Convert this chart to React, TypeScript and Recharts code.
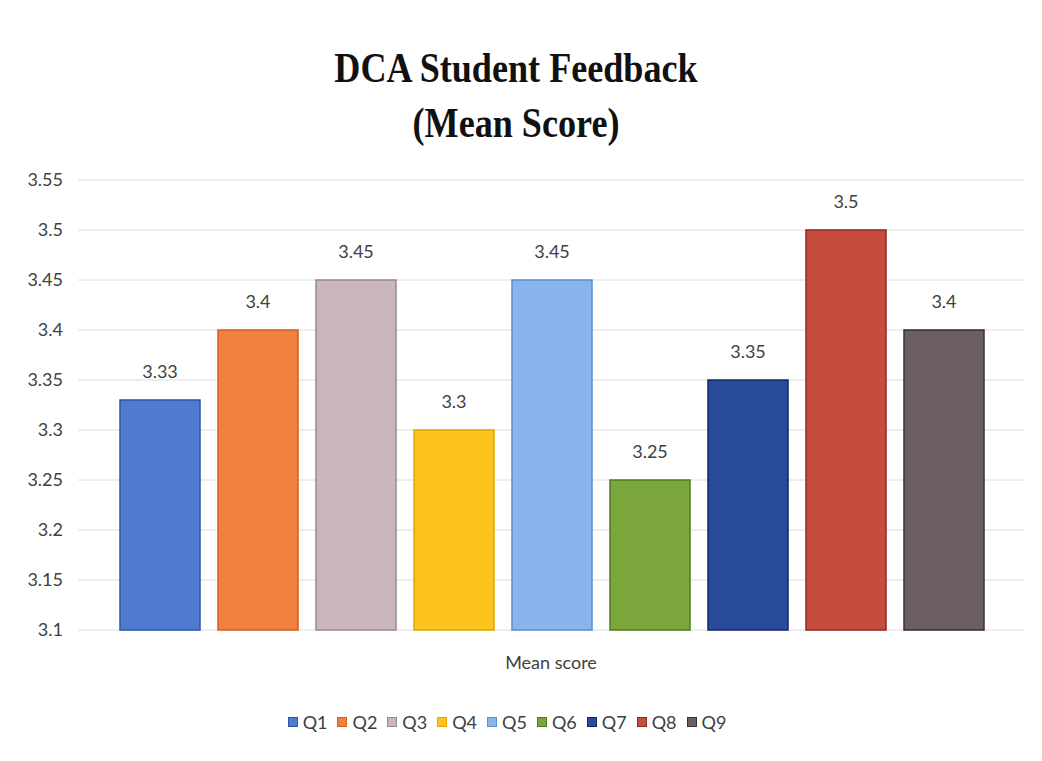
import { BarChart, Bar, XAxis, YAxis, CartesianGrid, Legend, LabelList } from 'recharts';

// Question labels and their mean scores
const questions = ['Q1', 'Q2', 'Q3', 'Q4', 'Q5', 'Q6', 'Q7', 'Q8', 'Q9'];
const meanScores = [3.33, 3.4, 3.45, 3.3, 3.45, 3.25, 3.35, 3.5, 3.4];
const categoryName = 'Mean score';
const yTicks = [3.1, 3.15, 3.2, 3.25, 3.3, 3.35, 3.4, 3.45, 3.5, 3.55];

const fills = ['#4f7bd0', '#f08040', '#cbb5bf', '#fcc21e', '#8ab4ec', '#7aa63c', '#284a9a', '#c64c3c', '#6b5e63'];
const strokes = ['#2d55a8', '#d0601e', '#9a8990', '#e0a800', '#5a8fd0', '#4f7a22', '#14286a', '#8e2a1e', '#3a3034'];

const row: Record<string, string | number> = { name: categoryName };
questions.forEach((q, i) => {
  row[q] = meanScores[i];
});
const data = [row];

const FONT = 'Lato, "Open Sans", sans-serif';
const TEXT = '#404040';

function LegendContent() {
  return (
    <div style={{ display: 'flex', justifyContent: 'center', height: 24, alignItems: 'center', fontFamily: FONT }}>
      {questions.map((q, i) => (
        <div key={q} style={{ display: 'flex', alignItems: 'center', marginRight: 10 }}>
          <span
            style={{
              width: 10,
              height: 10,
              background: fills[i],
              border: `1px solid ${strokes[i]}`,
              boxSizing: 'border-box',
              marginRight: 5,
            }}
          />
          <span style={{ fontSize: 18, color: TEXT }}>{q}</span>
        </div>
      ))}
    </div>
  );
}

export default function App() {
  return (
    <div style={{ position: 'absolute', left: 0, top: 0, width: 1042, height: 761, background: '#fff' }}>
      <div
        style={{
          position: 'absolute',
          left: 0,
          top: 41,
          width: 1032,
          textAlign: 'center',
          fontFamily: '"Liberation Serif", "Times New Roman", serif',
          fontWeight: 'bold',
          fontSize: 42,
          lineHeight: '55px',
          color: '#111',
        }}
      >
        <div style={{ transform: 'scaleX(0.86)' }}>DCA Student Feedback</div>
        <div style={{ transform: 'scaleX(0.86)' }}>(Mean Score)</div>
      </div>
      <BarChart
        width={1042}
        height={761}
        data={data}
        margin={{ top: 180, right: 18, left: 0, bottom: 27 }}
        barGap={18}
        barCategoryGap={42}
      >
        <CartesianGrid vertical={false} stroke="#dcdcdc" />
        <XAxis
          dataKey="name"
          axisLine={false}
          tickLine={false}
          tickSize={0}
          tickMargin={26}
          height={80}
          tick={{ fontSize: 18, fill: TEXT, fontFamily: FONT }}
        />
        <YAxis
          domain={[3.1, 3.55]}
          ticks={yTicks}
          width={78}
          axisLine={false}
          tickLine={false}
          tickSize={0}
          tickMargin={15}
          tick={{ fontSize: 18, fill: TEXT, fontFamily: FONT }}
        />
        <Legend verticalAlign="bottom" height={24} content={<LegendContent />} />
        {questions.map((q, i) => (
          <Bar key={q} dataKey={q} fill={fills[i]} stroke={strokes[i]} strokeWidth={1.5} isAnimationActive={false}>
            <LabelList dataKey={q} position="top" offset={22} fill={TEXT} fontSize={18} fontFamily={FONT} />
          </Bar>
        ))}
      </BarChart>
    </div>
  );
}
